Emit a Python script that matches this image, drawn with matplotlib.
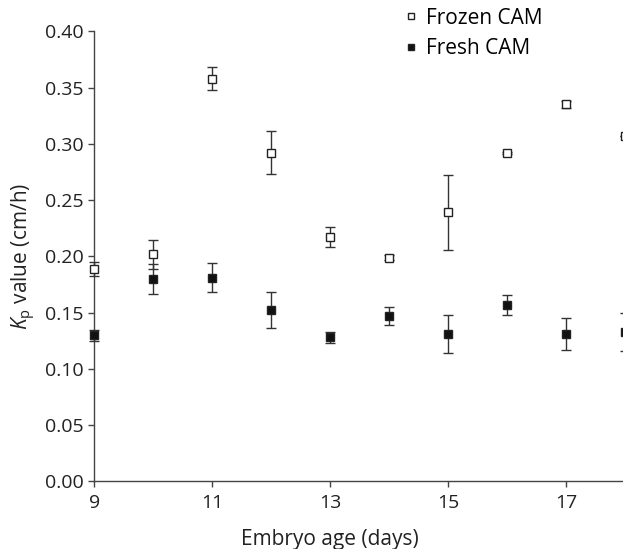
import matplotlib
matplotlib.use("Agg")
import matplotlib.pyplot as plt

plt.rcParams['font.family'] = ['Open Sans', 'DejaVu Sans']
plt.rcParams['mathtext.fontset'] = 'custom'
plt.rcParams['mathtext.rm'] = 'Open Sans'
plt.rcParams['mathtext.it'] = 'Open Sans:italic'

# embryo age (days)
age = [9, 10, 11, 12, 13, 14, 15, 16, 17, 18]

# Kp values, frozen CAM
frozen = [0.189, 0.202, 0.358, 0.292, 0.217, 0.199, 0.239, 0.292, 0.335, 0.307]
frozen_err = [0.006, 0.013, 0.010, 0.019, 0.009, 0.002, 0.033, 0.001, 0.003, 0.0]

# Kp values, fresh CAM
fresh = [0.130, 0.180, 0.181, 0.152, 0.128, 0.147, 0.131, 0.157, 0.131, 0.133]
fresh_err = [0.005, 0.013, 0.013, 0.016, 0.005, 0.008, 0.017, 0.009, 0.0145, 0.017]

fig = plt.figure(figsize=(6.23, 5.49), dpi=100)
ax = fig.add_axes([0.151, 0.123, 0.852, 0.820])

ecol = '#333333'
for vals, errs, fc, name in [(frozen, frozen_err, 'white', 'Frozen CAM'),
                             (fresh, fresh_err, '#111111', 'Fresh CAM')]:
    eb = ax.errorbar(age, vals, yerr=errs, fmt='s', ms=5.5, mfc=fc, mec='#222222',
                     mew=1.0, ecolor=ecol, elinewidth=1.0, capsize=3.5, capthick=1.0,
                     label=name, zorder=3)
    for art in eb.lines[1] + eb.lines[2] + (eb.lines[0],):
        art.set_clip_on(False)

ax.set_xlim(9, 18)
ax.set_ylim(0, 0.40)
ax.set_xticks([9, 11, 13, 15, 17])
ax.set_yticks([0.0, 0.05, 0.10, 0.15, 0.20, 0.25, 0.30, 0.35, 0.40])
ax.set_yticklabels(['%.2f' % v for v in ax.get_yticks()])

for s in ['top', 'right']:
    ax.spines[s].set_visible(False)
for s in ['left', 'bottom']:
    ax.spines[s].set_color('#444444')
    ax.spines[s].set_linewidth(1.0)
ax.tick_params(labelsize=14, labelcolor='#222222', length=4, width=1.0, color='#444444')
ax.tick_params(axis='x', pad=5)

ax.set_xlabel('Embryo age (days)', fontsize=15, color='#222222')
# label sits centred under day 13 in the original
ax.xaxis.set_label_coords(4 / 9, -0.105)
ax.set_ylabel(r'$K_\mathrm{p}$ value (cm/h)', fontsize=15, labelpad=5, color='#222222')

handles, labels = ax.get_legend_handles_labels()
handles = [h[0] for h in handles]
fig.legend(handles, labels, loc='upper left', bbox_to_anchor=(0.622, 1.02),
           frameon=False, fontsize=15, markerscale=0.75, handlelength=0.45,
           handletextpad=0.5, labelspacing=0.45)

fig.savefig('out.png', dpi=100)
